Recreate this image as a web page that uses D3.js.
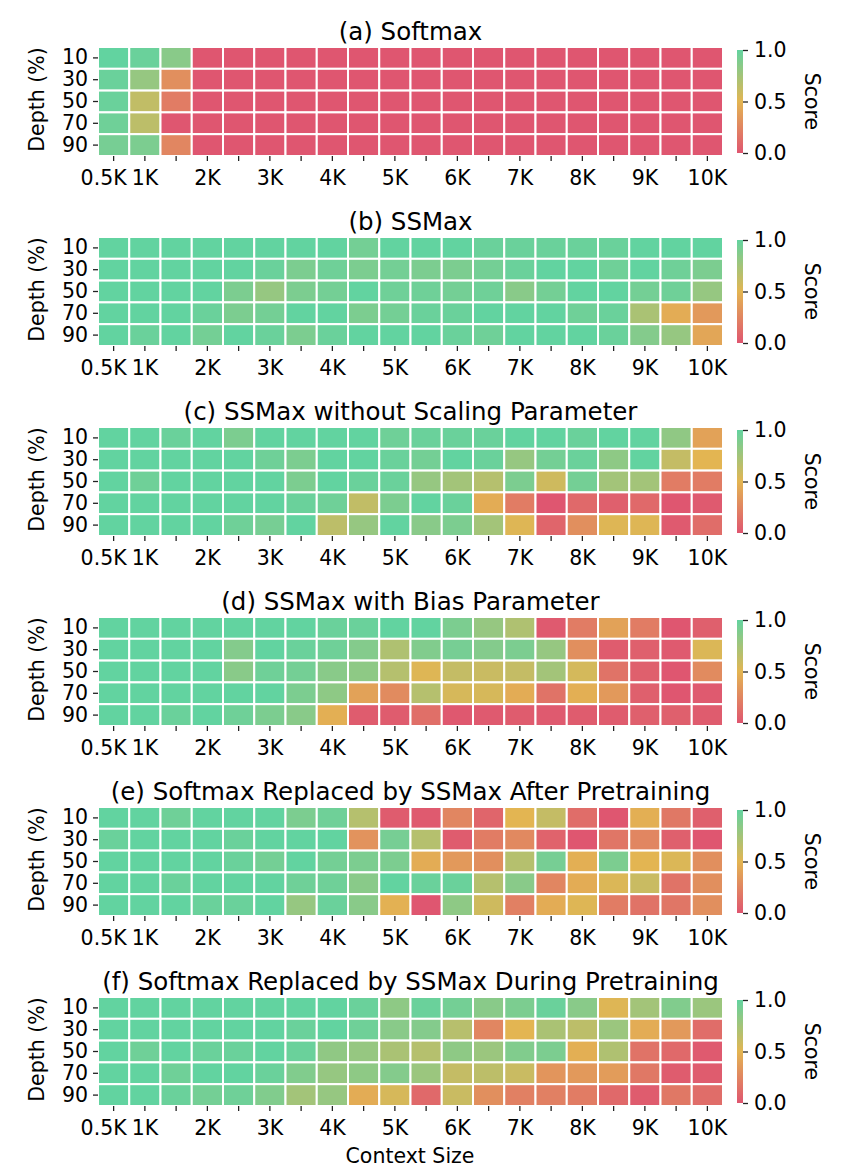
<!DOCTYPE html>
<html><head><meta charset="utf-8">
<script src="https://cdn.jsdelivr.net/npm/d3@7"></script>
<style>body{margin:0;background:#fff;} text{font-family:"DejaVu Sans",sans-serif;fill:#000;}</style>
</head><body>
<svg id="c" width="849" height="1168"></svg>
<script>
const contextSizes = ["0.5K","1K","1.5K","2K","2.5K","3K","3.5K","4K","4.5K","5K","5.5K","6K","6.5K","7K","7.5K","8K","8.5K","9K","9.5K","10K"];
const xTickLabels = ["0.5K","1K","2K","3K","4K","5K","6K","7K","8K","9K","10K"];
const depths = ["10","30","50","70","90"];
const titles = ["(a) Softmax","(b) SSMax","(c) SSMax without Scaling Parameter","(d) SSMax with Bias Parameter","(e) Softmax Replaced by SSMax After Pretraining","(f) Softmax Replaced by SSMax During Pretraining"];
const cbTicks = [0, 0.5, 1];

const softmax = [
 [1.0,0.97,0.85,0,0,0,0,0,0,0,0,0,0,0,0,0,0,0,0,0],
 [0.97,0.8,0.3,0,0,0,0,0,0,0,0,0,0,0,0,0,0,0,0,0],
 [0.97,0.63,0.2,0,0,0,0,0,0,0,0,0,0,0,0,0,0,0,0,0],
 [0.95,0.65,0.0,0,0,0,0,0,0,0,0,0,0,0,0,0,0,0,0,0],
 [0.92,0.9,0.25,0,0,0,0,0,0,0,0,0,0,0,0,0,0,0,0,0]
];
const ssmax = [
 [1,1,1,1,1,1,1,1,0.93,1,1,1,0.97,0.97,0.97,0.97,0.97,1,1,1],
 [1,1,1,1,1,0.97,0.9,0.95,0.9,0.93,0.9,0.9,0.93,0.97,1,1,0.95,1,0.95,0.9],
 [1,1,1,1,0.9,0.8,0.9,0.93,1,0.95,0.95,0.93,0.95,0.85,0.93,1,1,0.93,0.95,0.8],
 [1,1,1,0.97,0.9,0.93,1,1,0.9,0.93,0.97,0.97,1,1,1,0.95,0.97,0.72,0.45,0.35],
 [1,0.97,1,0.93,1,0.97,0.9,0.97,1,1,1,0.97,0.95,1,1,1,0.97,0.87,0.8,0.42]
];
const ssmaxNoScale = [
 [1,1,0.97,1,0.9,1,1,1,1,0.95,0.97,0.97,0.97,1,1,0.97,1,1,0.82,0.4],
 [1,1,1,1,1,0.95,0.9,1,1,0.97,0.93,1,0.97,0.8,0.93,0.97,0.83,1,0.62,0.5],
 [1,0.95,1,1,1,1,0.9,1,0.97,0.97,0.8,0.75,0.68,0.9,0.58,0.93,0.75,0.75,0.2,0.2],
 [1,1,1,1,1,1,0.97,0.95,0.63,0.9,1,0.97,0.45,0.2,0.0,0.1,0.05,0.1,0.0,0.02],
 [1,1,1,1,0.95,0.92,1,0.65,0.8,1,0.85,0.9,0.75,0.52,0.08,0.3,0.52,0.52,0.02,0.12]
];
const ssmaxBias = [
 [1,1,1,1,1,1,1,0.97,0.97,1,1,0.9,0.8,0.7,0.02,0.2,0.4,0.2,0.0,0.05],
 [1,1,1,1,0.87,1,0.97,0.95,0.87,0.7,0.88,0.92,0.87,0.9,0.8,0.3,0.03,0.05,0.02,0.53],
 [1,1,1,1,0.85,0.95,0.93,0.85,0.83,0.68,0.52,0.62,0.6,0.62,0.75,0.56,0.15,0.05,0.0,0.28],
 [1,1,1,1,1,1,0.9,0.83,0.4,0.28,0.68,0.55,0.55,0.45,0.15,0.47,0.35,0.05,0.0,0.02],
 [1,1,0.97,1,0.95,0.9,0.85,0.47,0.03,0.03,0.13,0.01,0.02,0.03,0.02,0.03,0.03,0.05,0.05,0.03]
];
const afterPretrain = [
 [1,1,0.95,1,1,1,0.9,0.95,0.68,0.03,0.02,0.25,0.08,0.5,0.62,0.12,0.0,0.47,0.18,0.05],
 [0.97,1,1,1,0.97,1,1,1,0.32,0.92,0.68,0.03,0.2,0.27,0.07,0.0,0.17,0.25,0.05,0.0],
 [1,1,1,1,0.97,0.93,1,0.93,0.9,0.9,0.45,0.35,0.3,0.68,0.92,0.47,0.9,0.5,0.53,0.3],
 [1,1,0.97,1,1,1,0.95,0.95,0.85,1,0.97,0.97,0.68,0.85,0.25,0.45,0.53,0.6,0.15,0.3],
 [1,1,1,0.97,0.97,1,0.8,0.97,0.85,0.48,0.0,0.83,0.58,0.22,0.45,0.52,0.2,0.15,0.17,0.3]
];
const duringPretrain = [
 [1,1,1,1,1,1,1,1,0.97,0.83,0.97,0.93,0.85,0.9,0.97,0.85,0.52,0.75,0.88,0.78],
 [1,1,1,1,1,1,0.97,1,0.95,0.85,0.87,0.67,0.25,0.5,0.72,0.65,0.78,0.45,0.35,0.12],
 [1,0.95,1,0.97,0.97,1,0.97,0.82,0.8,0.72,0.68,0.83,0.78,0.88,0.9,0.47,0.7,0.15,0.1,0.02],
 [1,1,0.95,1,1,0.97,0.88,0.8,0.83,0.87,0.78,0.62,0.65,0.6,0.33,0.35,0.37,0.18,0.03,0.03],
 [1,1,0.97,0.93,0.95,0.88,0.75,0.8,0.45,0.55,0.1,0.6,0.3,0.22,0.22,0.2,0.1,0.03,0.18,0.12]
];
const panels = [softmax, ssmax, ssmaxNoScale, ssmaxBias, afterPretrain, duringPretrain];

const svg = d3.select("#c");
const color = d3.scaleLinear().domain([0,0.5,1]).range(["#df5670","#e3b552","#62d3a0"]).interpolate(d3.interpolateRgb).clamp(true);

const x = d3.scaleBand().domain(contextSizes).range([98, 723]).padding(0);
const panelH = 109, gap = 190, top0 = 47;
const FS = "20.5px";

panels.forEach((data, pi) => {
  const y0 = top0 + pi*gap;
  const y = d3.scaleBand().domain(depths).range([y0, y0+panelH]);
  const g = svg.append("g");
  const cells = [];
  data.forEach((row, ri) => row.forEach((v, ci) => cells.push({d: depths[ri], c: contextSizes[ci], v})));
  g.selectAll("rect.cell").data(cells).enter().append("rect")
    .attr("x", d => x(d.c)).attr("y", d => y(d.d))
    .attr("width", x.bandwidth()).attr("height", y.bandwidth())
    .attr("fill", d => color(d.v)).attr("stroke", "#fff").attr("stroke-width", 2);

  // title
  svg.append("text").attr("x", (x.range()[0]+x.range()[1])/2).attr("y", y0-7)
    .attr("text-anchor","middle").style("font-size","24.5px").text(titles[pi]);

  // x axis
  const xa = d3.axisBottom(x).tickSize(5).tickPadding(9)
    .tickFormat(d => xTickLabels.includes(d) ? d : "");
  const gx = svg.append("g").attr("transform",`translate(0,${y0+panelH})`).call(xa);
  gx.select(".domain").remove();
  gx.selectAll("text").style("font-size",FS).style("font-family","DejaVu Sans")
    .attr("dx", d => d === "0.5K" ? "-10" : "0");
  gx.selectAll("line").attr("stroke","#222").attr("stroke-width",1.3);

  // y axis
  const ya = d3.axisLeft(y).tickSize(5).tickPadding(5);
  const gy = svg.append("g").attr("transform",`translate(${x.range()[0]},0)`).call(ya);
  gy.select(".domain").remove();
  gy.selectAll("text").style("font-size",FS).style("font-family","DejaVu Sans");
  gy.selectAll("line").attr("stroke","#222").attr("stroke-width",1.3);

  svg.append("text").attr("transform",`translate(44,${y0+panelH/2 - 2}) rotate(-90)`)
    .attr("text-anchor","middle").style("font-size",FS).text("Depth (%)");

  // colorbar
  const cbx = 737, cbw = 6;
  const cs = d3.scaleLinear().domain([0,1]).range([y0+panelH-3, y0+3]);
  const gid = "grad"+pi;
  const grad = svg.append("defs").append("linearGradient").attr("id",gid)
    .attr("x1",0).attr("y1",1).attr("x2",0).attr("y2",0);
  d3.range(0,1.0001,0.1).forEach(t => grad.append("stop").attr("offset",t).attr("stop-color",color(t)));
  svg.append("rect").attr("x",cbx).attr("y",cs(1)).attr("width",cbw).attr("height",cs(0)-cs(1)).attr("fill",`url(#${gid})`);
  const ca = d3.axisRight(cs).tickValues(cbTicks).tickFormat(d3.format(".1f")).tickSize(5).tickPadding(6);
  const gc = svg.append("g").attr("transform",`translate(${cbx+cbw},0)`).call(ca);
  gc.select(".domain").remove();
  gc.selectAll("text").style("font-size",FS).style("font-family","DejaVu Sans");
  gc.selectAll("line").attr("stroke","#222").attr("stroke-width",1.3);
  svg.append("text").attr("transform",`translate(805,${y0+panelH/2}) rotate(90)`)
    .attr("text-anchor","middle").style("font-size",FS).text("Score");
});

svg.append("text").attr("x",410).attr("y",1163).attr("text-anchor","middle").style("font-size",FS).text("Context Size");
</script>
</body></html>
